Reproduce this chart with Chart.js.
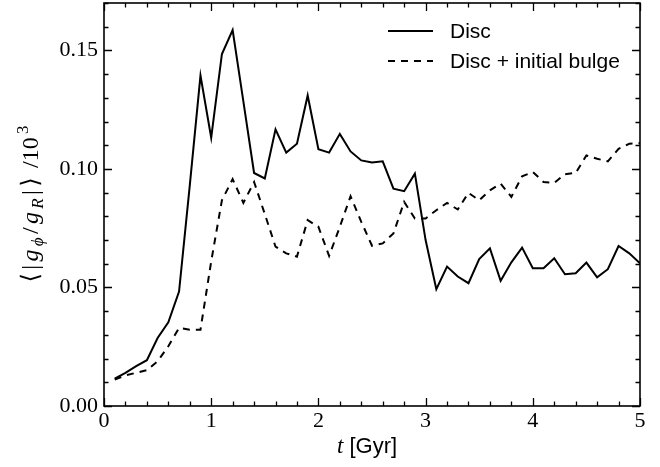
<!DOCTYPE html>
<html><head><meta charset="utf-8">
<script src="https://cdn.jsdelivr.net/npm/chart.js@4"></script>
<style>html,body{margin:0;padding:0;background:#fff}</style>
</head><body>
<canvas id="c" width="660" height="467"></canvas>
<script>
// ---- data ----
const times = [0.1,0.2,0.3,0.4,0.5,0.6,0.7,0.8,0.9,1.0,
               1.1,1.2,1.3,1.4,1.5,1.6,1.7,1.8,1.9,2.0,
               2.1,2.2,2.3,2.4,2.5,2.6,2.7,2.8,2.9,3.0,
               3.1,3.2,3.3,3.4,3.5,3.6,3.7,3.8,3.9,4.0,
               4.1,4.2,4.3,4.4,4.5,4.6,4.7,4.8,4.9,5.0];
const disc = [0.0115,0.0140,0.0168,0.0193,0.0287,0.0353,0.0483,0.0930,0.1394,0.1132,
              0.1485,0.1586,0.1285,0.0983,0.0960,0.1167,0.1069,0.1106,0.1310,0.1083,
              0.1069,0.1148,0.1074,0.1036,0.1027,0.1032,0.0917,0.0906,0.0980,0.0700,
              0.0493,0.0588,0.0546,0.0518,0.0620,0.0665,0.0528,0.0606,0.0668,0.0581,
              0.0581,0.0623,0.0556,0.0560,0.0605,0.0543,0.0577,0.0675,0.0644,0.0602];
const discBulge = [0.0112,0.0129,0.0140,0.0151,0.0189,0.0252,0.0329,0.0322,0.0322,0.0610,
                   0.0868,0.0957,0.0857,0.0945,0.0810,0.0672,0.0644,0.0630,0.0784,0.0756,
                   0.0633,0.0756,0.0885,0.0777,0.0676,0.0686,0.0728,0.0861,0.0791,0.0791,
                   0.0826,0.0857,0.0829,0.0899,0.0868,0.0910,0.0938,0.0882,0.0969,0.0987,
                   0.0945,0.0941,0.0978,0.0983,0.1057,0.1043,0.1032,0.1085,0.1106,0.1109];
const seriesLabels = ['Disc', 'Disc + initial bulge'];
const xTicks = [0, 1, 2, 3, 4, 5];
const yTicks = [0.00, 0.05, 0.10, 0.15];
const xMinorStep = 0.2;
const yMinorStep = 0.01;
const xTitleParts = ['t', ' [Gyr]'];

const SERIF = '"Liberation Serif", "DejaVu Serif", serif';
const SANS = '"Liberation Sans", Arial, sans-serif';

const decor = {
  id: 'decor',
  afterDraw(chart) {
    const {ctx, chartArea: a, scales: {x, y}} = chart;
    ctx.save();
    ctx.strokeStyle = '#000';
    ctx.lineWidth = 1.3;
    ctx.setLineDash([]);
    ctx.beginPath();
    const nx = Math.round((x.max - x.min) / xMinorStep);
    for (let i = 0; i <= nx; i++) {
      const v = x.min + i * xMinorStep;
      const px = Math.round(x.getPixelForValue(v)) + 0.5;
      const major = xTicks.some(t => Math.abs(t - v) < 1e-6);
      const L = major ? 8 : 4.5;
      ctx.moveTo(px, a.bottom); ctx.lineTo(px, a.bottom - L);
      ctx.moveTo(px, a.top); ctx.lineTo(px, a.top + L);
    }
    const ny = Math.floor((y.max - y.min) / yMinorStep + 1e-6);
    for (let i = 0; i <= ny; i++) {
      const v = y.min + i * yMinorStep;
      const py = Math.round(y.getPixelForValue(v)) + 0.5;
      const major = yTicks.some(t => Math.abs(t - v) < 1e-6);
      const L = major ? 8 : 4.5;
      ctx.moveTo(a.left, py); ctx.lineTo(a.left + L, py);
      ctx.moveTo(a.right, py); ctx.lineTo(a.right - L, py);
    }
    ctx.stroke();
    // frame
    ctx.lineWidth = 1.6;
    ctx.strokeRect(a.left, a.top, a.right - a.left, a.bottom - a.top);

    // legend
    const ds = chart.data.datasets;
    const rows = [31, 61];
    ds.forEach((d, i) => {
      ctx.lineWidth = d.borderWidth;
      ctx.setLineDash(d.borderDash || []);
      ctx.beginPath();
      ctx.moveTo(388, rows[i]); ctx.lineTo(433, rows[i]);
      ctx.stroke();
      ctx.setLineDash([]);
      ctx.fillStyle = '#000';
      ctx.font = '21px ' + SANS;
      ctx.textBaseline = 'alphabetic';
      ctx.textAlign = 'left';
      ctx.fillText(d.label, 450, rows[i] + 7);
    });

    // x title
    ctx.font = 'italic 23px ' + SERIF;
    const w1 = ctx.measureText(xTitleParts[0]).width;
    ctx.font = '22px ' + SANS;
    const w2 = ctx.measureText(xTitleParts[1]).width;
    let sx = 367 - (w1 + w2) / 2;
    ctx.font = 'italic 23px ' + SERIF;
    ctx.fillText(xTitleParts[0], sx, 453);
    ctx.font = '22px ' + SANS;
    ctx.fillText(xTitleParts[1], sx + w1, 453);

    // y title with sub/superscripts
    const fs = 24;
    const segs = [
      {t: '⟨', st: ''}, {t: '|', st: ''}, {t: 'g', st: 'italic '},
      {t: 'ϕ', st: 'italic ', sc: 0.7, dy: 0.22}, {t: '/', st: ''},
      {t: 'g', st: 'italic '}, {t: 'R', st: 'italic ', sc: 0.7, dy: 0.22},
      {t: '|', st: ''}, {t: '⟩', st: ''}, {t: ' /10', st: ''},
      {t: '3', st: '', sc: 0.7, dy: -0.42}
    ];
    let tot = 0;
    segs.forEach(s => {
      ctx.font = s.st + Math.round(fs * (s.sc || 1)) + 'px ' + SERIF;
      s.w = ctx.measureText(s.t).width;
      tot += s.w;
    });
    const target = 157;
    const gap = Math.max(0, (target - tot) / (segs.length - 1));
    const full = tot + gap * (segs.length - 1);
    ctx.translate(31, 204);
    ctx.rotate(-Math.PI / 2);
    let cx = -full / 2;
    segs.forEach(s => {
      ctx.font = s.st + Math.round(fs * (s.sc || 1)) + 'px ' + SERIF;
      ctx.fillText(s.t, cx, 7 + (s.dy || 0) * fs);
      cx += s.w + gap;
    });
    ctx.restore();
  }
};

new Chart(document.getElementById('c'), {
  type: 'line',
  data: {
    datasets: [
      {label: seriesLabels[0], data: times.map((t, i) => ({x: t, y: disc[i]})),
       borderColor: '#000', borderWidth: 2, pointRadius: 0, tension: 0, fill: false},
      {label: seriesLabels[1], data: times.map((t, i) => ({x: t, y: discBulge[i]})),
       borderColor: '#000', borderWidth: 2, borderDash: [7, 6], pointRadius: 0, tension: 0, fill: false}
    ]
  },
  options: {
    responsive: false, animation: false, devicePixelRatio: 1,
    layout: {padding: {left: 0, right: 20, top: 3, bottom: 0}},
    plugins: {legend: {display: false}, tooltip: {enabled: false}},
    scales: {
      x: {
        type: 'linear', min: 0, max: 5,
        grid: {display: false, drawTicks: false}, border: {display: false},
        afterBuildTicks: s => { s.ticks = xTicks.map(v => ({value: v})); },
        afterFit: s => { s.height = 61; s.paddingLeft = 0; s.paddingRight = 0; },
        ticks: {font: {family: SERIF, size: 22}, color: '#000', padding: 2,
                maxRotation: 0, autoSkip: false, callback: v => String(v)}
      },
      y: {
        type: 'linear', min: 0, max: 0.17,
        grid: {display: false, drawTicks: false}, border: {display: false},
        afterBuildTicks: s => { s.ticks = yTicks.map(v => ({value: v})); },
        afterFit: s => { s.width = 104; s.paddingTop = 0; s.paddingBottom = 0; },
        ticks: {font: {family: SERIF, size: 22}, color: '#000', padding: 6,
                autoSkip: false, callback: v => Number(v).toFixed(2)}
      }
    }
  },
  plugins: [decor]
});
</script>
</body></html>
